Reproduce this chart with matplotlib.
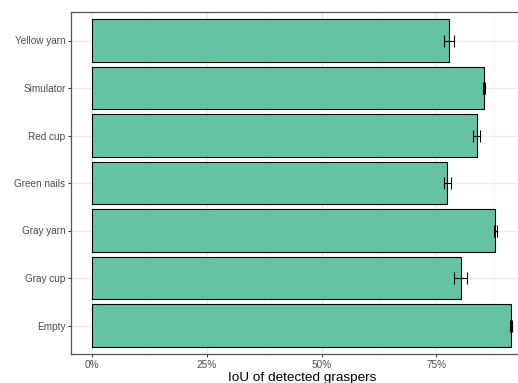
import matplotlib
matplotlib.use("Agg")
import matplotlib.pyplot as plt
from matplotlib.ticker import FixedLocator, PercentFormatter

plt.rcParams['font.family'] = ['Liberation Sans', 'DejaVu Sans']

# Scenes, bottom to top
scenes = ["Empty", "Gray cup", "Gray yarn", "Green nails", "Red cup", "Simulator", "Yellow yarn"]
iou_mean = [0.913, 0.803, 0.879, 0.774, 0.838, 0.854, 0.777]
iou_err = [0.002, 0.0135, 0.003, 0.008, 0.007, 0.003, 0.011]

fig = plt.figure(figsize=(5.18, 3.83), dpi=100)
W, H = 518, 383
ax = fig.add_axes([71 / W, 29 / H, 462 / W, 342 / H])

ypos = list(range(1, len(scenes) + 1))
ax.barh(ypos, iou_mean, height=0.9, color="#66C2A5", edgecolor="black",
        linewidth=0.8, zorder=3)
ax.errorbar(iou_mean, ypos, xerr=iou_err, fmt="none", ecolor="black",
            elinewidth=0.8, capsize=4.3, capthick=0.8, zorder=4)

top = max(m + e for m, e in zip(iou_mean, iou_err))
ax.set_xlim(-0.05 * top, 1.05 * top)
ax.set_ylim(0.4, len(scenes) + 0.6)

ax.xaxis.set_major_locator(FixedLocator([0, 0.25, 0.5, 0.75]))
ax.xaxis.set_minor_locator(FixedLocator([0.125, 0.375, 0.625, 0.875]))
ax.xaxis.set_major_formatter(PercentFormatter(1.0, decimals=0))
ax.set_yticks(ypos)
ax.set_yticklabels(scenes)

ax.grid(True, which="major", color="#ebebeb", linewidth=0.9, zorder=0)
ax.grid(True, which="minor", axis="x", color="#f2f2f2", linewidth=0.5, zorder=0)
ax.set_axisbelow(True)

for s in ax.spines.values():
    s.set_color("#555555")
    s.set_linewidth(0.9)

ax.tick_params(axis="both", which="major", length=2.5, width=0.7, color="#333333",
               labelsize=7.2, labelcolor="#4d4d4d", pad=1.5)
ax.tick_params(axis="both", which="minor", length=0)

ax.set_xlabel("IoU of detected graspers", fontsize=9.7, color="black", labelpad=2)

fig.savefig("out.png", dpi=100)
